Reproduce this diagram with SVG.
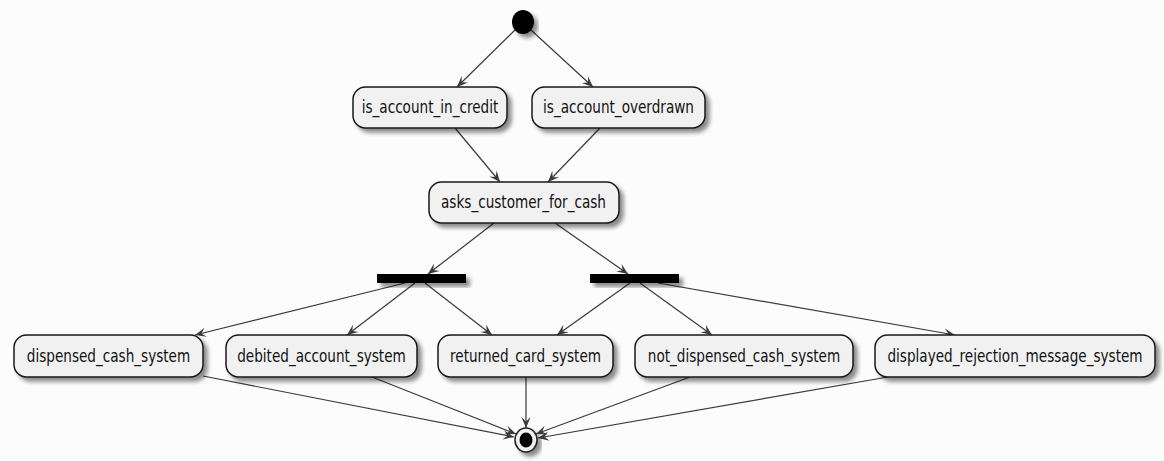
<svg xmlns="http://www.w3.org/2000/svg" width="1164" height="461" viewBox="0 0 1164 461">
  <style>
    .act { fill: #F1F1F1; stroke: #181818; stroke-width: 1.5; filter: url(#shadow); }
    .lbl { font-family: "DejaVu Sans", sans-serif; font-size: 13.6px; fill: #111; text-anchor: middle; }
    .bar { fill: #000; filter: url(#shadow); }
    .edge { stroke: #3A3A3A; stroke-width: 1.2; fill: none; marker-end: url(#arrow); }
  </style>
  <defs>
    <filter id="shadow" x="-20%" y="-40%" width="140%" height="190%">
      <feGaussianBlur in="SourceAlpha" stdDeviation="2"/>
      <feOffset dx="4" dy="4" result="b"/>
      <feComponentTransfer><feFuncA type="linear" slope="0.45"/></feComponentTransfer>
      <feMerge><feMergeNode/><feMergeNode in="SourceGraphic"/></feMerge>
    </filter>
    <marker id="arrow" viewBox="0 0 10 10" refX="10" refY="5" markerWidth="11" markerHeight="11" markerUnits="userSpaceOnUse" orient="auto">
      <path d="M0,0.8 L10,5 L0,9.2 L4,5 Z" fill="#3A3A3A"/>
    </marker>
  </defs>

  <rect width="1164" height="461" fill="#FCFCFC"/>

  <!-- connectors -->
  <g id="connectors">
    <line class="edge" x1="515" y1="30" x2="457" y2="87"/>
    <line class="edge" x1="531" y1="30" x2="593" y2="87"/>
    <line class="edge" x1="455" y1="128" x2="500" y2="182"/>
    <line class="edge" x1="600" y1="128" x2="548" y2="182"/>
    <line class="edge" x1="494" y1="223" x2="428" y2="274"/>
    <line class="edge" x1="555" y1="223" x2="628" y2="274"/>
    <line class="edge" x1="405" y1="283" x2="195" y2="335"/>
    <line class="edge" x1="415" y1="283" x2="347" y2="335"/>
    <line class="edge" x1="425" y1="283" x2="492" y2="335"/>
    <line class="edge" x1="630" y1="283" x2="557" y2="335"/>
    <line class="edge" x1="640" y1="283" x2="712" y2="335"/>
    <line class="edge" x1="658" y1="283" x2="955" y2="335"/>
    <line class="edge" x1="203" y1="376" x2="514" y2="437"/>
    <line class="edge" x1="372" y1="377" x2="516" y2="434"/>
    <line class="edge" x1="526" y1="377" x2="526" y2="428"/>
    <line class="edge" x1="690" y1="377" x2="536" y2="434"/>
    <line class="edge" x1="888" y1="377" x2="538" y2="438"/>
  </g>

  <!-- start -->
  <g id="start">
    <ellipse cx="523" cy="22" rx="11" ry="12" fill="#000" filter="url(#shadow)"/>
  </g>

  <!-- labels are stretched vertically to the tall glyph proportions -->
  <g id="is_account_in_credit">
    <rect class="act" x="353" y="87" width="154" height="41" rx="12.5"/>
    <text class="lbl" transform="translate(430 113) scale(1 1.28)">is_account_in_credit</text>
  </g>
  <g id="is_account_overdrawn">
    <rect class="act" x="532" y="87" width="173" height="41" rx="12.5"/>
    <text class="lbl" transform="translate(618.5 113) scale(1 1.28)">is_account_overdrawn</text>
  </g>

  <g id="asks_customer_for_cash">
    <rect class="act" x="429" y="182" width="190" height="41" rx="12.5"/>
    <text class="lbl" transform="translate(523.5 207.5) scale(1 1.28)">asks_customer_for_cash</text>
  </g>

  <g id="fork_left">
    <rect class="bar" x="377" y="274" width="89" height="9"/>
  </g>
  <g id="fork_right">
    <rect class="bar" x="590" y="274" width="89" height="9"/>
  </g>

  <g id="dispensed_cash_system">
    <rect class="act" x="14" y="335" width="189" height="42" rx="12.5"/>
    <text class="lbl" transform="translate(108.5 361.5) scale(1 1.28)">dispensed_cash_system</text>
  </g>
  <g id="debited_account_system">
    <rect class="act" x="226" y="335" width="191" height="42" rx="12.5"/>
    <text class="lbl" transform="translate(321.5 361.5) scale(1 1.28)">debited_account_system</text>
  </g>
  <g id="returned_card_system">
    <rect class="act" x="438" y="335" width="175" height="42" rx="12.5"/>
    <text class="lbl" transform="translate(525.5 361.5) scale(1 1.28)">returned_card_system</text>
  </g>
  <g id="not_dispensed_cash_system">
    <rect class="act" x="635" y="335" width="218" height="42" rx="12.5"/>
    <text class="lbl" transform="translate(744 361.5) scale(1 1.28)">not_dispensed_cash_system</text>
  </g>
  <g id="displayed_rejection_message_system">
    <rect class="act" x="875" y="335" width="280" height="42" rx="12.5"/>
    <text class="lbl" transform="translate(1015 361.5) scale(1 1.28)">displayed_rejection_message_system</text>
  </g>

  <!-- end -->
  <g id="end">
    <ellipse cx="526" cy="440" rx="11" ry="12" fill="#F1F1F1" stroke="#222" stroke-width="1.5" filter="url(#shadow)"/>
    <ellipse cx="526" cy="440" rx="6.5" ry="7.5" fill="#000"/>
  </g>
</svg>
